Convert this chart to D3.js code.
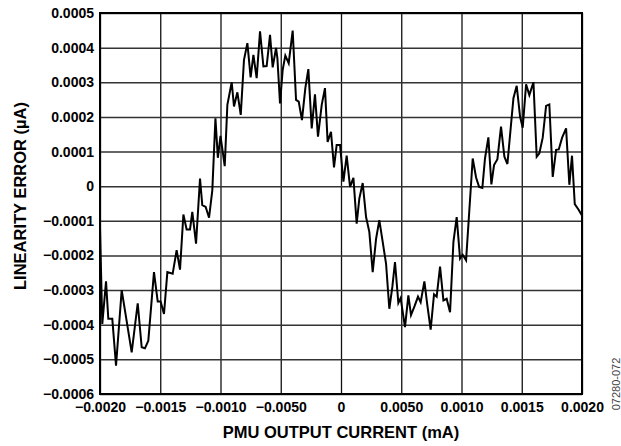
<!DOCTYPE html>
<html><head><meta charset="utf-8">
<script src="https://cdn.jsdelivr.net/npm/d3@7"></script>
<style>body{margin:0;background:#fff}svg{display:block}</style>
</head><body><svg id="c" width="621" height="446"></svg>
<script>
// PMU output current (mA)
const xValues = [
 -20.00e-4,-19.81e-4,-19.50e-4,-19.31e-4,-18.98e-4,-18.67e-4,-18.20e-4,-17.37e-4,-16.87e-4,-16.54e-4,
 -16.27e-4,-15.99e-4,-15.52e-4,-15.21e-4,-14.97e-4,-14.69e-4,-14.41e-4,-13.97e-4,-13.64e-4,-13.36e-4,
 -13.08e-4,-12.81e-4,-12.53e-4,-12.34e-4,-12.03e-4,-11.70e-4,-11.51e-4,-11.23e-4,-10.95e-4,-10.68e-4,
 -10.42e-4,-10.22e-4,-10.00e-4,-9.65e-4,-9.43e-4,-9.07e-4,-8.88e-4,-8.60e-4,-8.32e-4,-8.05e-4,
 -7.77e-4,-7.50e-4,-7.27e-4,-7.00e-4,-6.72e-4,-6.44e-4,-6.17e-4,-5.89e-4,-5.67e-4,-5.39e-4,
 -5.28e-4,-5.06e-4,-4.84e-4,-4.62e-4,-4.34e-4,-4.01e-4,-3.73e-4,-3.51e-4,-3.24e-4,-2.96e-4,
 -2.71e-4,-2.43e-4,-2.16e-4,-1.91e-4,-1.60e-4,-1.33e-4,-1.11e-4,-0.83e-4,-0.58e-4,-0.36e-4,
 -0.08e-4,0.20e-4,0.47e-4,0.75e-4,1.03e-4,1.30e-4,1.52e-4,1.80e-4,2.08e-4,2.35e-4,
 2.63e-4,2.91e-4,3.18e-4,3.46e-4,3.74e-4,4.01e-4,4.26e-4,4.48e-4,4.76e-4,4.95e-4,
 5.31e-4,5.59e-4,5.81e-4,6.12e-4,6.39e-4,6.61e-4,6.92e-4,7.17e-4,7.44e-4,7.72e-4,
 7.94e-4,8.22e-4,8.50e-4,8.77e-4,9.05e-4,9.33e-4,9.60e-4,9.88e-4,10.10e-4,10.38e-4,
 10.93e-4,11.21e-4,11.46e-4,11.73e-4,11.95e-4,12.23e-4,12.48e-4,12.70e-4,12.98e-4,13.28e-4,
 13.56e-4,13.81e-4,14.08e-4,14.31e-4,14.58e-4,14.86e-4,15.08e-4,15.36e-4,15.63e-4,15.97e-4,
 16.24e-4,16.46e-4,16.74e-4,17.02e-4,17.29e-4,17.57e-4,17.85e-4,18.07e-4,18.35e-4,18.68e-4,
 18.95e-4,19.17e-4,19.40e-4,19.72e-4,20.00e-4
];
// Linearity error (µA)
const yValues = [
 -1.20e-4,-3.98e-4,-2.75e-4,-3.83e-4,-3.83e-4,-5.18e-4,-3.00e-4,-4.80e-4,-3.38e-4,-4.65e-4,
 -4.68e-4,-4.46e-4,-2.48e-4,-3.33e-4,-3.33e-4,-3.69e-4,-2.48e-4,-2.53e-4,-1.85e-4,-2.41e-4,
 -0.82e-4,-1.25e-4,-1.25e-4,-0.74e-4,-1.66e-4,0.22e-4,-0.55e-4,-0.60e-4,-0.91e-4,-0.12e-4,
 1.96e-4,0.82e-4,1.45e-4,0.58e-4,2.35e-4,3.00e-4,2.30e-4,2.71e-4,2.06e-4,3.65e-4,
 4.13e-4,3.14e-4,3.79e-4,3.12e-4,4.47e-4,3.46e-4,3.47e-4,4.37e-4,3.43e-4,3.99e-4,
 3.70e-4,2.39e-4,3.36e-4,3.77e-4,3.55e-4,4.49e-4,2.49e-4,2.44e-4,1.91e-4,2.83e-4,
 3.38e-4,1.67e-4,2.65e-4,1.43e-4,2.35e-4,2.83e-4,1.28e-4,1.57e-4,0.54e-4,1.19e-4,
 1.19e-4,0.13e-4,0.88e-4,-0.02e-4,0.24e-4,-1.08e-4,-0.36e-4,0.09e-4,-0.89e-4,-1.32e-4,
 -2.48e-4,-1.52e-4,-0.98e-4,-1.61e-4,-2.24e-4,-3.54e-4,-2.91e-4,-2.19e-4,-3.37e-4,-3.23e-4,
 -4.07e-4,-3.15e-4,-3.72e-4,-3.45e-4,-3.19e-4,-3.35e-4,-2.75e-4,-3.45e-4,-4.14e-4,-3.12e-4,
 -3.19e-4,-2.32e-4,-3.30e-4,-3.25e-4,-3.64e-4,-1.61e-4,-0.89e-4,-2.09e-4,-1.98e-4,-2.14e-4,
 0.80e-4,0.25e-4,-0.02e-4,-0.05e-4,0.80e-4,1.41e-4,0.05e-4,0.61e-4,0.78e-4,1.72e-4,
 0.85e-4,0.64e-4,1.67e-4,2.54e-4,2.90e-4,2.01e-4,1.69e-4,2.94e-4,2.63e-4,3.00e-4,
 0.85e-4,0.95e-4,1.40e-4,2.32e-4,2.36e-4,0.27e-4,1.05e-4,1.06e-4,1.40e-4,1.67e-4,
 0.04e-4,0.88e-4,-0.52e-4,-0.68e-4,-0.85e-4
];
const xTickValues = [-0.0020,-0.0015,-0.0010,-0.0005,0,0.0005,0.0010,0.0015,0.0020];
const xTickLabels = ["\u22120.0020","\u22120.0015","\u22120.0010","\u22120.0050","0","0.0050","0.0010","0.0015","0.0020"];
const yTickValues = [0.0005,0.0004,0.0003,0.0002,0.0001,0,-0.0001,-0.0002,-0.0003,-0.0004,-0.0005,-0.0006];
const yTickLabels = ["0.0005","0.0004","0.0003","0.0002","0.0001","0","\u22120.0001","\u22120.0002","\u22120.0003","\u22120.0004","\u22120.0005","\u22120.0006"];
const xTitle = "PMU OUTPUT CURRENT (mA)";
const yTitle = "LINEARITY ERROR (\u00b5A)";
const figId = "07280-072";

const L = 100, R = 582, T = 13, B = 394;
const W = R - L, H = B - T;
const font = "'Liberation Sans', Arial, Helvetica, sans-serif";

const svg = d3.select("#c");
const x = d3.scaleLinear().domain([-0.0020, 0.0020]).range([L, R]);
const y = d3.scaleLinear().domain([-0.0006, 0.0005]).range([B, T]);

// grid + labels
const gx = svg.append("g").attr("transform", `translate(0,${B})`)
  .call(d3.axisBottom(x).tickValues(xTickValues)
    .tickFormat((d, i) => xTickLabels[i]).tickSizeInner(-H).tickSizeOuter(0).tickPadding(8));
gx.select(".domain").remove();
gx.selectAll("line").attr("stroke", "#111").attr("stroke-width", 1.3);
gx.selectAll("text").attr("font-family", font).attr("font-weight", "bold")
  .attr("font-size", 14).attr("fill", "#000");

const gy = svg.append("g").attr("transform", `translate(${L},0)`)
  .call(d3.axisLeft(y).tickValues(yTickValues)
    .tickFormat((d, i) => yTickLabels[i]).tickSizeInner(-W).tickSizeOuter(0).tickPadding(6));
gy.select(".domain").remove();
gy.selectAll("line").attr("stroke", "#333").attr("stroke-width", 1.5);
gy.selectAll("text").attr("font-family", font).attr("font-weight", "bold")
  .attr("font-size", 14).attr("fill", "#000");

// data line
const pts = xValues.map((v, i) => [v, yValues[i]]);
svg.append("path").datum(pts)
  .attr("fill", "none").attr("stroke", "#000").attr("stroke-width", 2)
  .attr("stroke-linejoin", "miter")
  .attr("d", d3.line().x(d => x(d[0])).y(d => y(d[1])));

// frame
svg.append("rect").attr("x", L).attr("y", T).attr("width", W).attr("height", H)
  .attr("fill", "none").attr("stroke", "#000").attr("stroke-width", 2);

// titles
svg.append("text").attr("x", (L + R) / 2).attr("y", 438).attr("text-anchor", "middle")
  .attr("font-family", font).attr("font-weight", "bold").attr("font-size", 16.5).text(xTitle);
svg.append("text").attr("transform", "translate(26,196) rotate(-90)").attr("text-anchor", "middle")
  .attr("font-family", font).attr("font-weight", "bold").attr("font-size", 16.5).text(yTitle);
svg.append("text").attr("transform", "translate(620,384) rotate(-90)").attr("text-anchor", "middle")
  .attr("font-family", font).attr("font-size", 11).attr("fill", "#444").text(figId);
</script></body></html>
